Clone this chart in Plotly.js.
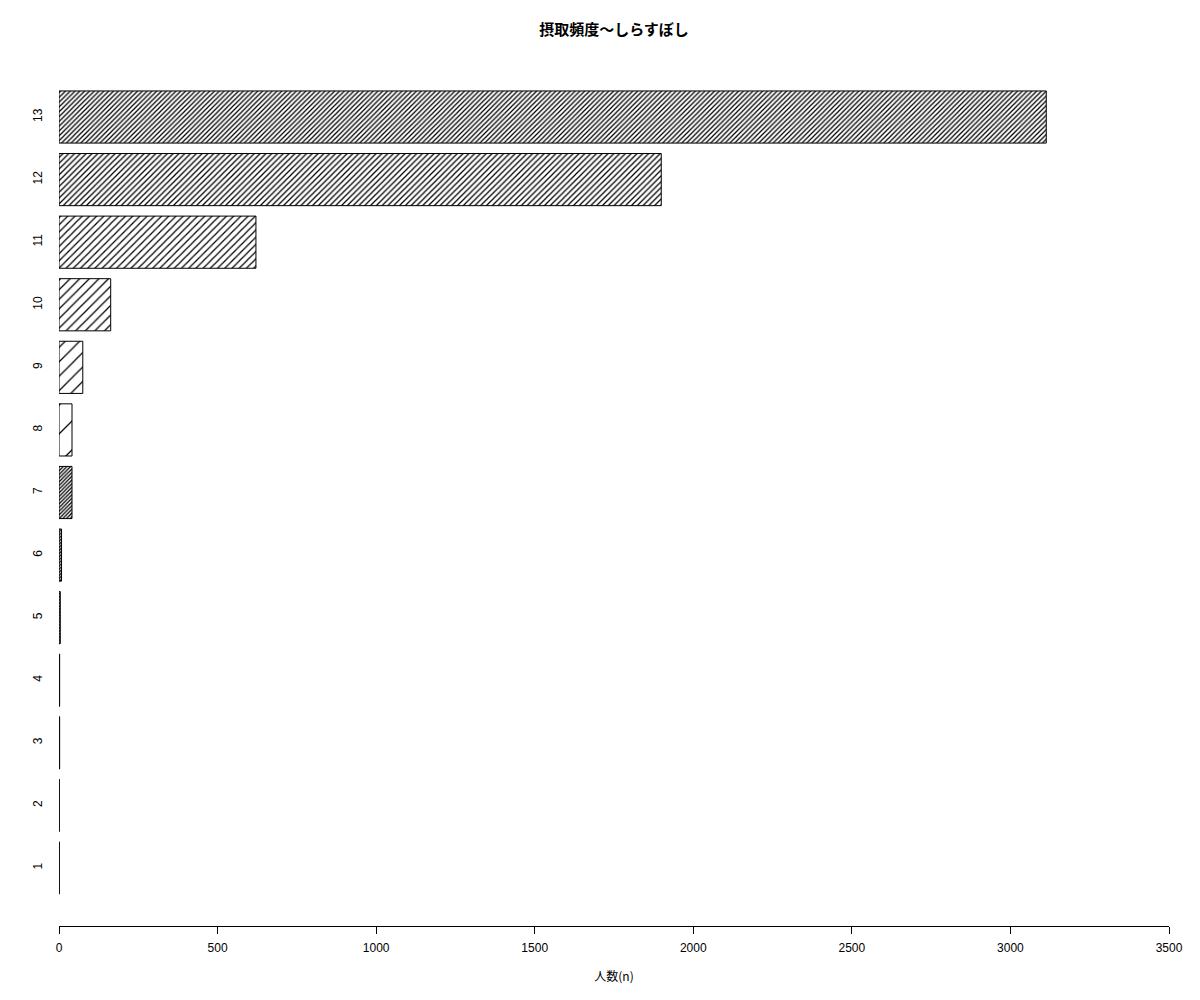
<!DOCTYPE html>
<html>
<head>
<meta charset="utf-8">
<script src="https://cdn.plot.ly/plotly-3.0.1.min.js"></script>
<style>
  body { margin: 0; background: #fff; }
  #chart { width: 1200px; height: 1000px; }
</style>
</head>
<body>
<div id="chart"></div>
<script>
// 摂取頻度カテゴリ (1-13) と人数
var categories = ['1', '2', '3', '4', '5', '6', '7', '8', '9', '10', '11', '12', '13'];
var counts = [1, 1, 2, 2, 4, 8, 41, 41, 75, 163, 621, 1899, 3113];
var xTicks = [0, 500, 1000, 1500, 2000, 2500, 3000, 3500];

// hatch spacing per bar (px), like R density
var hatchSize = [2, 2, 2, 2, 2.2, 2.2, 2.6, 20.4, 10.2, 6.8, 5.1, 4.1, 3.4];
var hatchSolid = [];
for (let i = 0; i < hatchSize.length; i++) {
    hatchSolid.push(Math.min(0.6, 1.25 / hatchSize[i]))
}

var bars = {
    type: 'bar',
    orientation: 'h',
    x: counts,
    y: categories,
    marker: {
        color: 'white',
        line: { color: 'black', width: 1 },
        pattern: {
            shape: '/',
            size: hatchSize,
            solidity: hatchSolid,
            fgcolor: 'black',
            bgcolor: 'white',
            fillmode: 'replace'
        }
    },
    hoverinfo: 'x+y'
};

var layout = {
    width: 1200,
    height: 1000,
    margin: { l: 59, r: 31, t: 59, b: 74 },
    paper_bgcolor: 'white',
    plot_bgcolor: 'white',
    bargap: 1 / 6,
    showlegend: false,
    font: { family: 'Liberation Sans, Arial, sans-serif', size: 12, color: 'black' },
    title: {
        text: '<b>摂取頻度〜しらすぼし</b>',
        font: { family: 'Noto Sans CJK JP', size: 15, color: 'black' },
        x: 614 / 1200,
        xanchor: 'center',
        y: 1 - 30 / 1000,
        yanchor: 'middle'
    },
    xaxis: {
        range: [0, 3500],
        tickvals: xTicks,
        ticktext: xTicks.map(String),
        showgrid: false,
        zeroline: false,
        showline: true,
        linecolor: 'black',
        linewidth: 1,
        ticks: 'outside',
        ticklen: 7,
        tickcolor: 'black',
        ticklabelstandoff: 4,
        tickfont: { size: 12 },
        title: {
            text: '人数(n)',
            font: { family: 'Noto Sans CJK JP', size: 12 },
            standoff: 18
        }
    },
    yaxis: {
        type: 'category',
        categoryorder: 'array',
        categoryarray: categories,
        range: [-0.927, 12.927],
        showgrid: false,
        zeroline: false,
        showline: false,
        ticks: '',
        tickangle: -90,
        ticklabelstandoff: 14,
        tickfont: { size: 12 }
    }
};

Plotly.newPlot('chart', [bars], layout, { displayModeBar: false, staticPlot: true });
</script>
</body>
</html>
